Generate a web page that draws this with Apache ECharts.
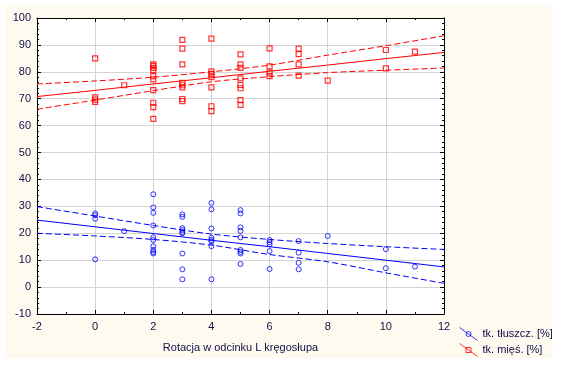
<!DOCTYPE html>
<html><head><meta charset="utf-8">
<script src="https://cdn.jsdelivr.net/npm/echarts@6/dist/echarts.min.js"></script>
<style>
html,body{margin:0;padding:0;background:#fff;}
#bg{position:absolute;left:5px;top:5px;width:547px;height:353px;background:#fffaf0;}
#chart{position:absolute;left:0;top:0;width:562px;height:371px;}
</style></head><body>
<div id="bg"></div><div id="chart"></div>
<script>
// Tick labels
const xTicks = [-2, 0, 2, 4, 6, 8, 10, 12];
const yTicks = [-10, 0, 10, 20, 30, 40, 50, 60, 70, 80, 90, 100];

// tk. tłuszcz. [%] (blue circles)
const fatX = [0,0,0,0, 1,
  2,2,2,2,2,2,2,2,2,2,
  3,3,3,3,3,3,3,3,3,
  4,4,4,4,4,4,4,4,
  5,5,5,5,5,5,5,5,5,
  6,6,6,6,6,
  7,7,7,7,
  8, 10,10, 11];
const fatY = [27.4,26.7,25.4,10.3, 20.8,
  34.5,29.6,27.6,22.9,18.5,17.5,15.2,13.8,13.0,12.5,
  27.0,26.1,21.9,21.2,20.4,20.0,12.5,6.6,2.9,
  31.3,28.9,21.8,18.3,17.5,17.0,15.2,2.9,
  28.6,27.4,22.2,20.9,18.5,13.8,13.1,12.5,8.6,
  17.5,16.7,15.9,13.4,6.7,
  17.1,12.8,9.0,6.6,
  19.0, 14.1,7.0, 7.6];

// tk. mięś. [%] (red squares)
const musX = [0,0,0,0, 1,
  2,2,2,2,2,2,2,2,2,2,
  3,3,3,3,3,3,3,3,
  4,4,4,4,4,4,4,
  5,5,5,5,5,5,5,5,
  6,6,6,6,
  7,7,7,7,
  8, 10,10, 11];
const musY = [85.0,70.5,69.7,68.8, 75.0,
  82.8,82.2,81.5,80.6,78.4,77.2,73.2,68.5,66.9,62.5,
  91.9,88.6,82.8,75.9,75.0,74.2,69.9,69.1,
  92.3,80.2,79.2,78.0,74.2,67.2,65.4,
  86.5,82.8,81.5,77.6,75.1,73.9,69.5,67.7,
  88.7,82.0,79.7,78.4,
  88.6,86.6,82.8,78.6,
  76.7, 88.1,81.3, 87.5];

// Fit lines and confidence bands, read at these x positions
const bandX = [-2, 0, 2, 4, 6, 8, 10, 12];
const fatFit   = [24.9, 22.4, 19.9, 17.4, 15.0, 12.5, 10.0, 7.5];
const fatUpper = [29.9, 26.4, 22.9, 19.7, 17.7, 16.2, 15.0, 14.0];
const fatLower = [20.0, 19.0, 17.7, 15.6, 12.1, 9.4, 5.3, 1.4];
const musFit   = [70.8, 73.1, 75.5, 77.8, 80.2, 82.5, 84.9, 87.2];
const musUpper = [75.5, 76.6, 78.0, 80.0, 82.5, 86.2, 89.7, 93.4];
const musLower = [66.1, 69.5, 73.0, 76.3, 78.2, 79.7, 80.6, 81.4];

const xName = 'Rotacja w odcinku L kręgosłupa';
const fatName = 'tk. tłuszcz. [%]';
const musName = 'tk. mięś. [%]';

const TXT = '#101048';
const FONT = '"Liberation Sans", Arial, sans-serif';
const BLUE = '#0000ff';
const RED = '#ff0000';

function pairs(xs, ys) { return xs.map((x, i) => [x, ys[i]]); }

function axisCommon(pos, labels) {
  return {
    type: 'value', position: pos,
    axisLine: { show: true, onZero: false, lineStyle: { color: '#000', width: 1 } },
    axisTick: { show: true, inside: true, length: 4, lineStyle: { color: '#000' } },
    minorTick: { show: true, length: 2, lineStyle: { color: '#000' } },
    axisLabel: { show: labels, fontSize: 11, color: TXT, fontFamily: FONT },
    splitLine: { show: false }
  };
}

const xMain = Object.assign(axisCommon('bottom', true), {
  min: -2, max: 12, interval: 2,
  name: xName, nameLocation: 'middle', nameGap: 28,
  nameTextStyle: { fontSize: 11, color: TXT, fontFamily: FONT },
  splitLine: { show: true, lineStyle: { color: '#d4d4d4', width: 1 } }
});
xMain.minorTick.splitNumber = 2;
xMain.axisLabel.margin = 7;
xMain.axisLabel.formatter = v => (xTicks.includes(v) ? String(v) : '');
const xTop = Object.assign(axisCommon('top', false), { min: -2, max: 12, interval: 2 });
xTop.minorTick.splitNumber = 2;

const yMain = Object.assign(axisCommon('left', true), {
  min: -10, max: 100, interval: 10,
  splitLine: { show: true, lineStyle: { color: '#d4d4d4', width: 1 } }
});
yMain.minorTick.splitNumber = 5;
yMain.axisLabel.margin = 6;
yMain.axisLabel.formatter = v => (yTicks.includes(v) ? String(v) : '');
const yRight = Object.assign(axisCommon('right', false), { min: -10, max: 100, interval: 10 });
yRight.minorTick.splitNumber = 5;

function lineSeries(name, ys, color, dashed) {
  return {
    name: name, type: 'line', xAxisIndex: 0, yAxisIndex: 0,
    data: pairs(bandX, ys), symbol: 'none', smooth: dashed ? 0.3 : false,
    lineStyle: { color: color, width: 1, type: dashed ? [6, 3] : 'solid' },
    z: 2, silent: true
  };
}

const chart = echarts.init(document.getElementById('chart'), null, { renderer: 'canvas' });
chart.setOption({
  animation: false,
  backgroundColor: 'transparent',
  textStyle: { fontFamily: FONT },
  grid: { left: 37, right: 118, top: 18, bottom: 57, show: true, backgroundColor: '#fff', borderWidth: 0 },
  xAxis: [xMain, xTop],
  yAxis: [yMain, yRight],
  legend: {
    orient: 'vertical', left: 454, top: 322,
    itemWidth: 18, itemHeight: 13, itemGap: 2,
    textStyle: { fontSize: 11, color: TXT, fontFamily: FONT },
    data: [
      { name: fatName, icon: 'path://M0,0 L18,13 M6.5,6.5 A2.5,2.5 0 1 1 11.5,6.5 A2.5,2.5 0 1 1 6.5,6.5 Z',
        itemStyle: { color: 'transparent', borderColor: BLUE, borderWidth: 1 } },
      { name: musName, icon: 'path://M0,0 L18,13 M6.5,4 L11.5,4 L11.5,9 L6.5,9 Z',
        itemStyle: { color: 'transparent', borderColor: RED, borderWidth: 1 } }
    ]
  },
  series: [
    lineSeries('fatFit', fatFit, BLUE, false),
    lineSeries('fatUpper', fatUpper, BLUE, true),
    lineSeries('fatLower', fatLower, BLUE, true),
    lineSeries('musFit', musFit, RED, false),
    lineSeries('musUpper', musUpper, RED, true),
    lineSeries('musLower', musLower, RED, true),
    {
      name: fatName, type: 'scatter', data: pairs(fatX, fatY),
      symbol: 'circle', symbolSize: 5, z: 3,
      itemStyle: { color: 'transparent', borderColor: BLUE, borderWidth: 1 }
    },
    {
      name: musName, type: 'scatter', data: pairs(musX, musY),
      symbol: 'rect', symbolSize: 5, z: 3,
      itemStyle: { color: 'transparent', borderColor: RED, borderWidth: 1.2 }
    }
  ]
});
</script>
</body></html>
